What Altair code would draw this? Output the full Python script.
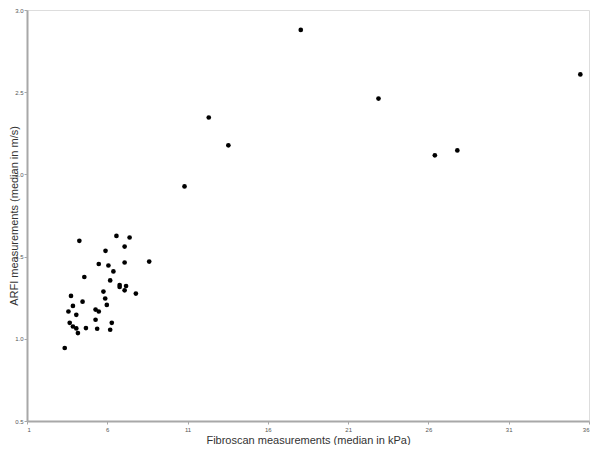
import altair as alt
import pandas as pd

fibroscan_kpa = [
    4.26, 6.57, 7.39, 7.08, 5.89, 8.61, 5.47, 6.07, 7.08, 6.38,
    4.57, 6.18, 6.77, 6.77, 7.17, 7.08, 7.78, 5.76, 5.87, 3.74,
    4.46, 5.97, 3.86, 3.58, 5.27, 5.47, 4.07, 5.27, 3.66, 6.28,
    3.86, 4.07, 4.67, 5.37, 6.18, 4.17, 3.35,
    18.05, 35.46, 22.89, 12.32, 13.54, 26.40, 27.80, 10.81,
]
arfi_ms = [
    1.596, 1.626, 1.616, 1.561, 1.535, 1.470, 1.455, 1.446, 1.464, 1.410,
    1.376, 1.355, 1.327, 1.315, 1.321, 1.295, 1.275, 1.287, 1.245, 1.261,
    1.226, 1.206, 1.200, 1.166, 1.178, 1.166, 1.146, 1.116, 1.097, 1.097,
    1.075, 1.063, 1.065, 1.061, 1.055, 1.035, 0.944,
    2.879, 2.608, 2.461, 2.346, 2.177, 2.116, 2.146, 1.927,
]
x_ticks = [1, 6, 11, 16, 21, 26, 31, 36]
y_ticks = [0.5, 1.0, 1.5, 2.0, 2.5, 3.0]

df = pd.DataFrame({"fib": fibroscan_kpa, "arfi": arfi_ms})

FONT = "Liberation Sans"

chart = (
    alt.Chart(df)
    .mark_circle(color="black", opacity=1, size=22)
    .encode(
        x=alt.X(
            "fib:Q",
            scale=alt.Scale(domain=[1, 36], nice=False, zero=False),
            axis=alt.Axis(
                values=x_ticks,
                title="Fibroscan measurements (median in kPa)",
                format="d",
                grid=False,
                domainColor="#a8a8a8",
                domainWidth=2,
                tickColor="#a8a8a8",
                tickWidth=1,
                tickSize=3,
                labelFontSize=6,
                labelColor="#555555",
                labelFont=FONT,
                labelPadding=2,
                titleFont=FONT,
                titleFontSize=11,
                titleFontWeight="normal",
                titleColor="#333333",
                titleBaseline="alphabetic",
                titleY=22,
            ),
        ),
        y=alt.Y(
            "arfi:Q",
            scale=alt.Scale(domain=[0.5, 3.0], nice=False, zero=False),
            axis=alt.Axis(
                values=y_ticks,
                title="ARFI measurements (median in m/s)",
                format=".1f",
                grid=False,
                domainColor="#a8a8a8",
                domainWidth=2,
                tickColor="#a8a8a8",
                tickWidth=1,
                tickSize=3,
                labelFontSize=6,
                labelColor="#555555",
                labelFont=FONT,
                labelPadding=1,
                titleFont=FONT,
                titleFontSize=11,
                titleFontWeight="normal",
                titleColor="#333333",
                titleAngle=270,
                titleBaseline="top",
                titleX=-19,
            ),
        ),
    )
    .properties(
        width=562,
        height=411,
        autosize=alt.AutoSizeParams(type="none"),
        padding={"left": 19, "top": 2, "right": 3, "bottom": 24},
    )
    .configure_view(stroke=None)
    .configure(background="white")
)

chart.save("out.html", embed_options={"renderer": "svg", "actions": False})
